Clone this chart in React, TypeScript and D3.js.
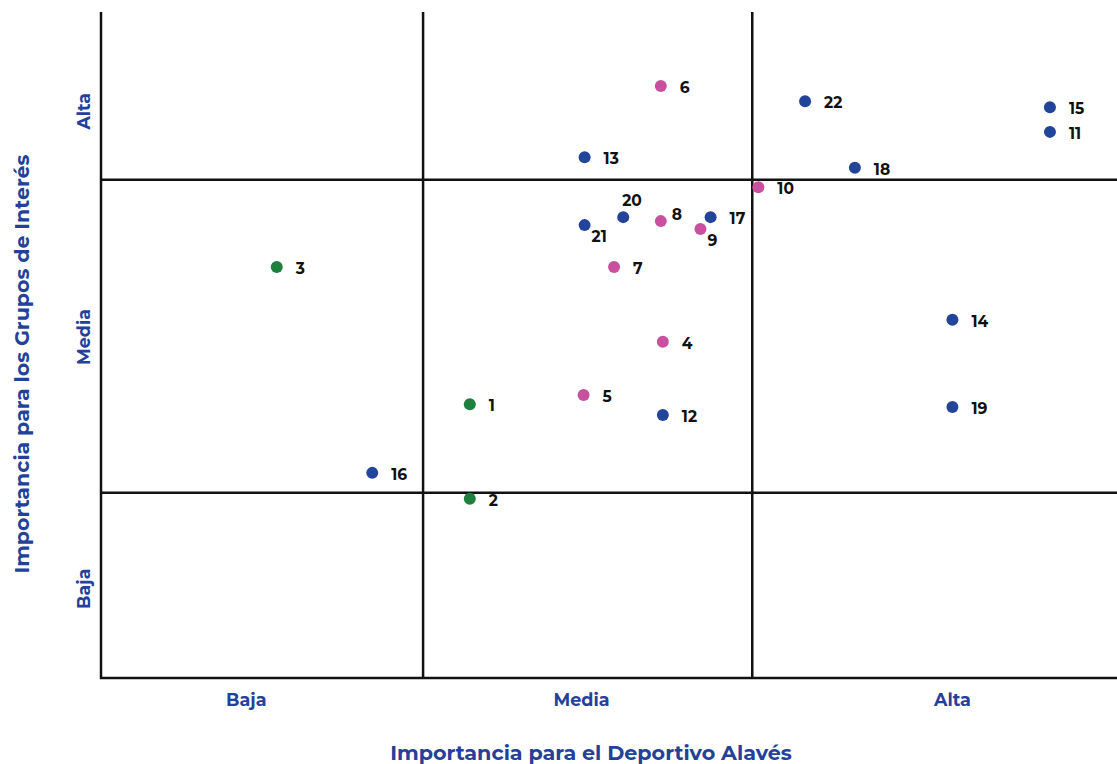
import React from "react";
import * as d3 from "d3";

const ids = ["6","22","15","11","13","18","10","20","8","17","21","9","3","7","14","4","1","5","12","19","16","2"];
const xVals = [55.1,69.3,93.4,93.4,47.6,74.2,64.7,51.4,55.1,60.0,47.6,59.0,17.3,50.5,83.8,55.3,36.3,47.5,55.3,83.8,26.7,36.3];
const yVals = [88.9,86.6,85.7,82.0,78.2,76.6,73.7,69.2,68.6,69.2,68.0,67.4,61.7,61.7,53.8,50.5,41.1,42.5,39.5,40.7,30.8,26.9];
const groups = ["p","b","b","b","b","b","p","b","p","b","b","p","g","p","b","p","g","p","b","b","b","g"];
// label position: r = right, a = above, br = below-right, ar = above-right
const labelPos = ["r","r","r","r","r","r","r","a","ar","r","br","br","r","r","r","r","r","r","r","r","r","r"];

const xDividers = [31.7, 64.1];
const yDividers = [74.8, 27.8];
const xTickLabels = ["Baja","Media","Alta"];
const xTickVals = [14.3,47.3,83.8];
const yTickLabels = ["Alta","Media","Baja"];
const yTickVals = [85.1,51.2,13.4];

const colors: Record<string,string> = { b: "#22449a", p: "#c9509f", g: "#1f7f3f" };

export default function App() {
  const W = 1117, H = 764;
  const x = d3.scaleLinear().domain([0,100]).range([101,1117]);
  const y = d3.scaleLinear().domain([0,100]).range([678,12]);
  const font = "Montserrat, 'Open Sans', sans-serif";
  const blue = "#24419a";
  const sw = 2.5;
  return (
    <svg width={W} height={H} style={{position:"absolute",left:0,top:0,background:"#fff"}}>
      {xDividers.map((d,i)=>(
        <line key={"xv"+i} x1={x(d)} x2={x(d)} y1={y(100)} y2={y(0)} stroke="#111" strokeWidth={sw}/>
      ))}
      {yDividers.map((d,i)=>(
        <line key={"yh"+i} x1={x(0)} x2={x(100)} y1={y(d)} y2={y(d)} stroke="#111" strokeWidth={sw}/>
      ))}
      <line x1={x(0)} x2={x(0)} y1={y(100)} y2={y(0)+1} stroke="#111" strokeWidth={sw}/>
      <line x1={x(0)-1} x2={x(100)} y1={y(0)} y2={y(0)} stroke="#111" strokeWidth={sw}/>
      {ids.map((id,i)=>{
        const cx = x(xVals[i]), cy = y(yVals[i]);
        const p = labelPos[i];
        let lx = cx+19, ly = cy+7;
        if (p==="a") { lx = cx-1; ly = cy-11; }
        if (p==="ar") { lx = cx+11; ly = cy-1; }
        if (p==="br") { lx = cx+7; ly = cy+17; }
        return (
          <g key={id}>
            <circle cx={cx} cy={cy} r={6} fill={colors[groups[i]]}/>
            <text x={lx} y={ly} fontFamily={font} fontWeight={700} fontSize={15.5} fill="#111">{id}</text>
          </g>
        );
      })}
      {xTickLabels.map((t,i)=>(
        <text key={"xt"+i} x={x(xTickVals[i])} y={706} textAnchor="middle" fontFamily={font} fontWeight={700} fontSize={17.5} fill={blue}>{t}</text>
      ))}
      {yTickLabels.map((t,i)=>(
        <text key={"yt"+i} transform={`translate(90,${y(yTickVals[i])}) rotate(-90)`} textAnchor="middle" fontFamily={font} fontWeight={700} fontSize={17.5} fill={blue}>{t}</text>
      ))}
      <text x={591} y={760} textAnchor="middle" fontFamily={font} fontWeight={700} fontSize={20.7} fill={blue}>Importancia para el Deportivo Alavés</text>
      <text transform={`translate(29,364) rotate(-90)`} textAnchor="middle" fontFamily={font} fontWeight={700} fontSize={20.6} fill={blue}>Importancia para los Grupos de Interés</text>
    </svg>
  );
}
